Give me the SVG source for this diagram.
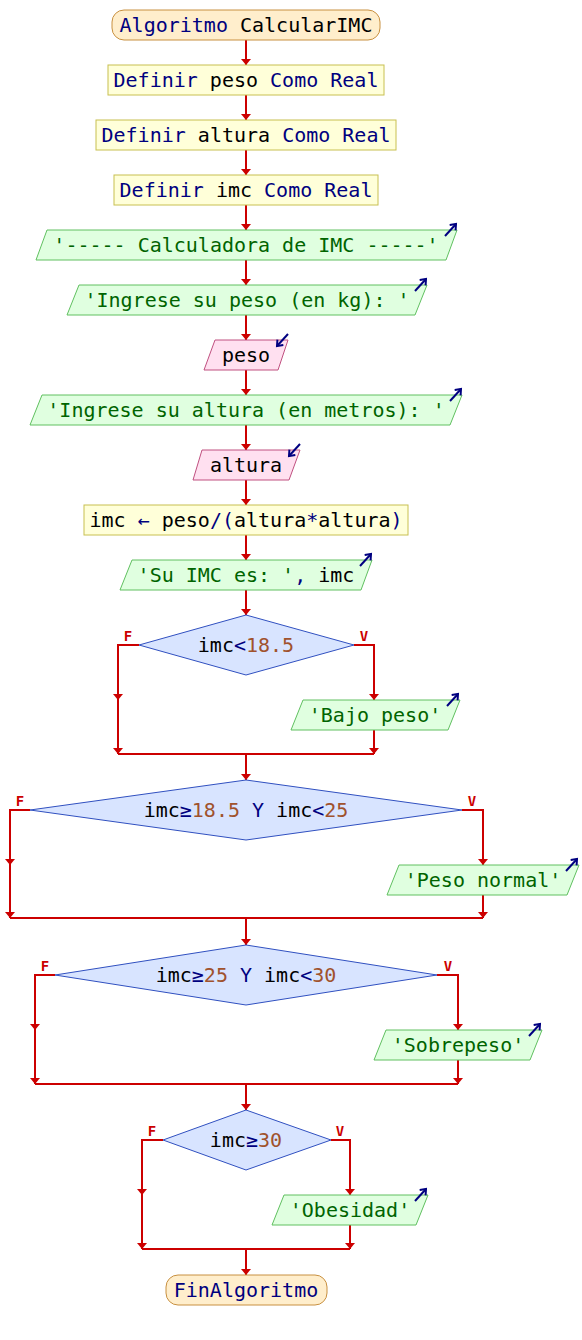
<svg xmlns="http://www.w3.org/2000/svg" width="582" height="1340" viewBox="0 0 582 1340">
<style>
.t{font-family:"DejaVu Sans Mono","Liberation Mono",monospace;font-size:20px;text-anchor:middle}
.k{fill:#00007f}.s{fill:#006400}.n{fill:#a0522d}.i{fill:#000000}
.term{fill:#ffeecc;stroke:#c89040;stroke-width:1}
.proc{fill:#ffffd9;stroke:#c8c050;stroke-width:1}
.out{fill:#e0ffe0;stroke:#60c060;stroke-width:1}
.in{fill:#ffe0f0;stroke:#c05080;stroke-width:1}
.dec{fill:#d8e4ff;stroke:#3050c0;stroke-width:1}
.c{fill:none;stroke:#cc0000;stroke-width:2}
.ca{fill:none;stroke:#cc0000;stroke-width:2;marker-end:url(#ah)}
.lbl{font-family:"DejaVu Sans Mono","Liberation Mono",monospace;font-size:14px;font-weight:bold;fill:#cc0000;text-anchor:middle}
.ic{fill:none;stroke:#000080;stroke-width:2}
</style>
<defs>
<marker id="ah" markerUnits="userSpaceOnUse" markerWidth="12" markerHeight="12" refX="6" refY="5" orient="auto">
<path d="M0,0 L6,5 L0,10 Z" fill="#cc0000"/>
</marker>
<marker id="ih" markerUnits="userSpaceOnUse" markerWidth="10" markerHeight="10" refX="6" refY="5" orient="auto">
<path d="M1,1 L6,5 L1,9" fill="none" stroke="#000080" stroke-width="2"/>
</marker>
</defs>
<rect width="582" height="1340" fill="#ffffff"/>

<g id="connectors">
<line class="ca" x1="246" y1="40" x2="246" y2="65"/>
<line class="ca" x1="246" y1="95" x2="246" y2="120"/>
<line class="ca" x1="246" y1="150" x2="246" y2="175"/>
<line class="ca" x1="246" y1="205" x2="246" y2="230"/>
<line class="ca" x1="246" y1="260" x2="246" y2="285"/>
<line class="ca" x1="246" y1="315" x2="246" y2="340"/>
<line class="ca" x1="246" y1="370" x2="246" y2="395"/>
<line class="ca" x1="246" y1="425" x2="246" y2="450"/>
<line class="ca" x1="246" y1="480" x2="246" y2="505"/>
<line class="ca" x1="246" y1="535" x2="246" y2="560"/>
<line class="ca" x1="246" y1="590" x2="246" y2="615"/>
<polyline class="ca" points="139,645 118,645 118,700"/>
<line class="ca" x1="118" y1="700" x2="118" y2="754"/>
<polyline class="ca" points="354,645 374,645 374,700"/>
<line class="ca" x1="374" y1="730" x2="374" y2="754"/>
<line class="c" x1="118" y1="754" x2="374" y2="754"/>
<line class="ca" x1="246" y1="754" x2="246" y2="780"/>
<polyline class="ca" points="30,810 10,810 10,865"/>
<line class="ca" x1="10" y1="865" x2="10" y2="918"/>
<polyline class="ca" points="462,810 483,810 483,865"/>
<line class="ca" x1="483" y1="895" x2="483" y2="918"/>
<line class="c" x1="10" y1="918" x2="483" y2="918"/>
<line class="ca" x1="246" y1="918" x2="246" y2="945"/>
<polyline class="ca" points="55,975 35,975 35,1030"/>
<line class="ca" x1="35" y1="1030" x2="35" y2="1084"/>
<polyline class="ca" points="437,975 458,975 458,1030"/>
<line class="ca" x1="458" y1="1060" x2="458" y2="1084"/>
<line class="c" x1="35" y1="1084" x2="458" y2="1084"/>
<line class="ca" x1="246" y1="1084" x2="246" y2="1110"/>
<polyline class="ca" points="163,1140 142,1140 142,1195"/>
<line class="ca" x1="142" y1="1195" x2="142" y2="1249"/>
<polyline class="ca" points="331,1140 350,1140 350,1195"/>
<line class="ca" x1="350" y1="1225" x2="350" y2="1249"/>
<line class="c" x1="142" y1="1249" x2="350" y2="1249"/>
<line class="ca" x1="246" y1="1249" x2="246" y2="1275"/>
</g>

<g id="start">
<rect class="term" x="112" y="10" width="268" height="30" rx="12"/>
<text class="t" x="246" y="32"><tspan class="k">Algoritmo</tspan><tspan class="i"> CalcularIMC</tspan></text>
</g>
<g id="def-peso">
<rect class="proc" x="108" y="65" width="276" height="30"/>
<text class="t" x="246" y="87"><tspan class="k">Definir</tspan><tspan class="i"> peso </tspan><tspan class="k">Como Real</tspan></text>
</g>
<g id="def-altura">
<rect class="proc" x="96" y="120" width="300" height="30"/>
<text class="t" x="246" y="142"><tspan class="k">Definir</tspan><tspan class="i"> altura </tspan><tspan class="k">Como Real</tspan></text>
</g>
<g id="def-imc">
<rect class="proc" x="114" y="175" width="264" height="30"/>
<text class="t" x="246" y="197"><tspan class="k">Definir</tspan><tspan class="i"> imc </tspan><tspan class="k">Como Real</tspan></text>
</g>
<g id="out-titulo">
<polygon class="out" points="47,230 457,230 446,260 36,260"/>
<text class="t" x="246" y="252"><tspan class="s">'----- Calculadora de IMC -----'</tspan></text>
<line class="ic" x1="445" y1="236" x2="456" y2="224" marker-end="url(#ih)"/>
</g>
<g id="out-peso">
<polygon class="out" points="79,285 427,285 415,315 67,315"/>
<text class="t" x="247" y="307"><tspan class="s">'Ingrese su peso (en kg): '</tspan></text>
<line class="ic" x1="415" y1="291" x2="426" y2="279" marker-end="url(#ih)"/>
</g>
<g id="in-peso">
<polygon class="in" points="215,340 288,340 278,370 204,370"/>
<text class="t" x="246" y="362"><tspan class="i">peso</tspan></text>
<line class="ic" x1="288" y1="334" x2="277" y2="346" marker-end="url(#ih)"/>
</g>
<g id="out-altura">
<polygon class="out" points="42,395 462,395 450,425 30,425"/>
<text class="t" x="246" y="417"><tspan class="s">'Ingrese su altura (en metros): '</tspan></text>
<line class="ic" x1="450" y1="401" x2="461" y2="389" marker-end="url(#ih)"/>
</g>
<g id="in-altura">
<polygon class="in" points="202,450 300,450 289,480 193,480"/>
<text class="t" x="246" y="472"><tspan class="i">altura</tspan></text>
<line class="ic" x1="300" y1="444" x2="289" y2="456" marker-end="url(#ih)"/>
</g>
<g id="calc-imc">
<rect class="proc" x="84" y="505" width="324" height="30"/>
<text class="t" x="246" y="527"><tspan class="i">imc </tspan><tspan class="k">←</tspan><tspan class="i"> peso</tspan><tspan class="k">/(</tspan><tspan class="i">altura</tspan><tspan class="k">*</tspan><tspan class="i">altura</tspan><tspan class="k">)</tspan></text>
</g>
<g id="out-imc">
<polygon class="out" points="132,560 372,560 361,590 120,590"/>
<text class="t" x="246" y="582"><tspan class="s">'Su IMC es: '</tspan><tspan class="k">,</tspan><tspan class="i"> imc</tspan></text>
<line class="ic" x1="360" y1="566" x2="371" y2="554" marker-end="url(#ih)"/>
</g>
<g id="dec1">
<polygon class="dec" points="246,615 354,645 246,675 139,645"/>
<text class="t" x="246" y="652"><tspan class="i">imc</tspan><tspan class="k">&lt;</tspan><tspan class="n">18.5</tspan></text>
<text class="lbl" x="128" y="641">F</text>
<text class="lbl" x="364" y="641">V</text>
</g>
<g id="out-bajo">
<polygon class="out" points="303,700 460,700 448,730 291,730"/>
<text class="t" x="375" y="722"><tspan class="s">'Bajo peso'</tspan></text>
<line class="ic" x1="447" y1="706" x2="458" y2="694" marker-end="url(#ih)"/>
</g>
<g id="dec2">
<polygon class="dec" points="246,780 462,810 246,840 30,810"/>
<text class="t" x="246" y="817"><tspan class="i">imc</tspan><tspan class="k">≥</tspan><tspan class="n">18.5</tspan><tspan class="k"> Y </tspan><tspan class="i">imc</tspan><tspan class="k">&lt;</tspan><tspan class="n">25</tspan></text>
<text class="lbl" x="20" y="806">F</text>
<text class="lbl" x="472" y="806">V</text>
</g>
<g id="out-normal">
<polygon class="out" points="399,865 579,865 567,895 387,895"/>
<text class="t" x="483" y="887"><tspan class="s">'Peso normal'</tspan></text>
<line class="ic" x1="566" y1="871" x2="577" y2="859" marker-end="url(#ih)"/>
</g>
<g id="dec3">
<polygon class="dec" points="246,945 437,975 246,1005 55,975"/>
<text class="t" x="246" y="982"><tspan class="i">imc</tspan><tspan class="k">≥</tspan><tspan class="n">25</tspan><tspan class="k"> Y </tspan><tspan class="i">imc</tspan><tspan class="k">&lt;</tspan><tspan class="n">30</tspan></text>
<text class="lbl" x="45" y="971">F</text>
<text class="lbl" x="448" y="971">V</text>
</g>
<g id="out-sobre">
<polygon class="out" points="386,1030 542,1030 530,1060 374,1060"/>
<text class="t" x="458" y="1052"><tspan class="s">'Sobrepeso'</tspan></text>
<line class="ic" x1="529" y1="1036" x2="540" y2="1024" marker-end="url(#ih)"/>
</g>
<g id="dec4">
<polygon class="dec" points="246,1110 331,1140 246,1170 163,1140"/>
<text class="t" x="246" y="1147"><tspan class="i">imc</tspan><tspan class="k">≥</tspan><tspan class="n">30</tspan></text>
<text class="lbl" x="152" y="1136">F</text>
<text class="lbl" x="340" y="1136">V</text>
</g>
<g id="out-obes">
<polygon class="out" points="284,1195 428,1195 416,1225 272,1225"/>
<text class="t" x="350" y="1217"><tspan class="s">'Obesidad'</tspan></text>
<line class="ic" x1="415" y1="1201" x2="426" y2="1189" marker-end="url(#ih)"/>
</g>
<g id="end">
<rect class="term" x="166" y="1275" width="161" height="30" rx="12"/>
<text class="t" x="246" y="1297"><tspan class="k">FinAlgoritmo</tspan></text>
</g>
</svg>
